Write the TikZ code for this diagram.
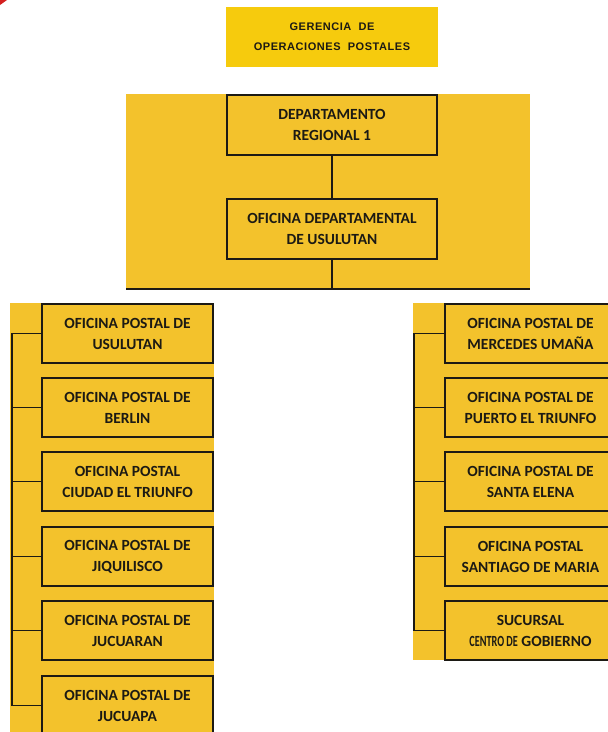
\documentclass[tikz,border=0pt]{standalone}
\usepackage{fontspec}
\usepackage{graphicx}
\setmainfont{Carlito}
\newfontfamily\hdrfont{Liberation Sans}[LetterSpace=5]
\definecolor{hdryellow}{HTML}{F6CB0D}
\definecolor{blockyellow}{HTML}{F3C22C}
\definecolor{inkc}{HTML}{1C1A14}
\definecolor{scanred}{HTML}{D42020}
\tikzset{
  orgbox/.style={draw=inkc, line width=1.7pt, fill=blockyellow, minimum width=171pt,
    minimum height=59pt, align=center, text=inkc, inner sep=0pt,
    font=\bfseries\fontsize{15.5}{21}\selectfont},
  midbox/.style={orgbox, minimum width=210pt, minimum height=60pt},
  hdrbox/.style={fill=hdryellow, minimum width=212pt, minimum height=60pt, inner sep=0pt,
    align=center, text=inkc, font=\hdrfont\bfseries\fontsize{11}{20}\selectfont},
  conn/.style={draw=inkc, line width=1.7pt},
}
\begin{document}
\begin{tikzpicture}[x=1pt,y=-1pt]
\useasboundingbox (0,0) rectangle (608,732);
\clip (0,0) rectangle (608,732);
% scan artifact
\fill[scanred] (0,0) -- (7,0) .. controls (4,3) .. (0,5) -- cycle;
% header
\node[hdrbox] (hdr) at (332,37) {GERENCIA\ \ DE\\OPERACIONES\ \ POSTALES};
% middle block
\fill[blockyellow] (126,94) rectangle (530,289);
\coordinate (mbl) at (126,289);
\coordinate (mbr) at (530,289);
\draw[conn, line width=2pt] (mbl) -- (mbr);
\node[midbox] (d1) at (332,125) {DEPARTAMENTO\\REGIONAL 1};
\node[midbox] (d2) at (332,229) {OFICINA DEPARTAMENTAL\\DE USULUTAN};
\draw[conn] (d1) -- (d2);
\draw[conn] (d2.south) -- (d2.south |- mbl);
% left column
\fill[blockyellow] (10,303) rectangle (214,732);
\node[orgbox] (l1) at (127.5,333.5) {OFICINA POSTAL DE\\USULUTAN};
\node[orgbox] (l2) at (127.5,407.5) {OFICINA POSTAL DE\\BERLIN};
\node[orgbox] (l3) at (127.5,481.5) {OFICINA POSTAL\\CIUDAD EL TRIUNFO};
\node[orgbox] (l4) at (127.5,556.5) {OFICINA POSTAL DE\\JIQUILISCO};
\node[orgbox] (l5) at (127.5,630.5) {OFICINA POSTAL DE\\JUCUARAN};
\node[orgbox] (l6) at (127.5,705.5) {OFICINA POSTAL DE\\JUCUAPA};
\coordinate (lt) at (12,0);
\draw[conn] (l1.west) -- (l1.west -| lt) -- (l6.west -| lt) -- (l6.west);
\foreach \i in {2,...,5} \draw[conn] (l\i.west) -- (l\i.west -| lt);
% right column
\fill[blockyellow] (413,303) rectangle (608,660);
\node[orgbox] (r1) at (530.5,333.5) {OFICINA POSTAL DE\\MERCEDES UMAÑA};
\node[orgbox] (r2) at (530.5,407.5) {OFICINA POSTAL DE\\PUERTO EL TRIUNFO};
\node[orgbox] (r3) at (530.5,481.5) {OFICINA POSTAL DE\\SANTA ELENA};
\node[orgbox] (r4) at (530.5,556.5) {OFICINA POSTAL\\SANTIAGO DE MARIA};
\node[orgbox] (r5) at (530.5,630.5) {SUCURSAL\\\scalebox{0.66}[1]{CENTRO DE} GOBIERNO};
\coordinate (rt) at (414,0);
\draw[conn] (r1.west) -- (r1.west -| rt) -- (r5.west -| rt) -- (r5.west);
\foreach \i in {2,...,4} \draw[conn] (r\i.west) -- (r\i.west -| rt);
\end{tikzpicture}
\end{document}
